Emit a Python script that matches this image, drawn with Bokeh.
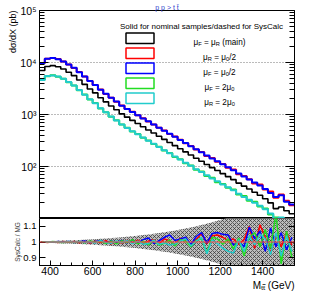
import numpy as np
from bokeh.plotting import figure
from bokeh.layouts import column
from bokeh.models import Range1d, FixedTicker, Label, Span, Title, LogAxis, LinearAxis
from bokeh.embed import file_html
from bokeh.resources import INLINE

# ---------------- data ----------------
bin_edges = list(range(350, 1575, 25))          # 48 bins of 25 GeV, 350 .. 1550
bin_centers = [e + 12.5 for e in bin_edges[:-1]]

# d sigma / dX (pb) per bin
main_mu = [7000, 8400, 8700, 8300, 7500, 6500, 5600, 4600, 3800, 3100, 2600, 2100,
           1750, 1460, 1230, 1030, 890, 770, 670, 580, 505, 440, 382, 333,
           289, 252, 219, 191, 166, 144, 126, 109, 95, 84, 73, 64,
           56, 48, 42, 37, 32, 28, 24, 20, 15.5, 16.6, 14.1, 12.3]
muR_half = [9750, 11850, 12150, 11650, 10450, 9200, 7850, 6550, 5380, 4420, 3690, 3020,
            2480, 2110, 1760, 1490, 1270, 1125, 965, 845, 735, 645, 555, 492,
            422, 376, 327, 280, 249, 212, 191, 160, 146, 124, 112, 95,
            88, 71, 66, 57, 47, 45, 36, 33, 25, 29, 22, 18]
muF_half = [9800, 11800, 12200, 11600, 10500, 9150, 7900, 6500, 5400, 4400, 3700, 3000,
            2500, 2100, 1770, 1480, 1280, 1120, 970, 840, 740, 640, 558, 489,
            425, 372, 324, 283, 246, 215, 188, 162, 143, 126, 110, 97,
            85, 73, 64, 56, 49, 43, 37, 31, 26, 28, 21, 18.5]
muF_two = [4650, 5450, 5700, 5350, 4880, 4170, 3620, 2930, 2420, 1950, 1655, 1305,
           1110, 905, 778, 640, 556, 472, 420, 356, 317, 270, 240, 203,
           182, 153, 138, 116, 105, 87, 80, 66, 61, 50, 46, 39,
           36, 29, 27, 22, 21, 17, 15.5, 12, 10.5, 10, 9.2, 7.4]
muR_two = [4600, 5500, 5650, 5400, 4850, 4200, 3600, 2950, 2400, 1970, 1640, 1320,
           1100, 915, 770, 645, 550, 478, 415, 360, 313, 273, 237, 206,
           179, 156, 136, 118, 103, 89, 78, 68, 59, 52, 45, 40,
           35, 30, 26, 23, 20, 17.5, 15, 12.5, 10, 10.5, 8.8, 7.7]

# SysCalc / MG ratios
ratio_muR_half = [1.002, 0.997, 1.001, 0.996, 1.003, 0.998, 1.004, 0.995, 1.003, 0.994, 1.005, 0.997,
                  1.008, 0.988, 1.004, 0.992, 1.010, 0.995, 1.012, 0.990, 1.006, 1.015, 0.988, 1.020,
                  1.008, 0.985, 1.025, 1.010, 0.980, 1.015, 1.055, 0.990, 1.040, 1.045, 1.030, 1.010,
                  1.020, 0.985, 1.015, 1.100, 0.960, 1.110, 1.030, 0.930, 1.040, 0.970, 1.060, 0.980]
ratio_muF_half = [0.999, 1.002, 0.998, 1.003, 1.000, 1.004, 0.997, 1.002, 1.006, 0.996, 1.003, 1.008,
                  0.995, 1.006, 0.997, 1.010, 0.994, 1.012, 0.992, 1.015, 1.025, 0.990, 1.008, 1.030,
                  1.045, 1.010, 1.020, 1.030, 0.985, 1.035, 1.060, 0.995, 1.055, 1.060, 1.050, 1.045,
                  0.980, 1.005, 0.970, 1.095, 1.020, 1.070, 0.940, 1.090, 0.970, 1.060, 0.950, 1.030]
ratio_muF_two = [1.001, 0.998, 1.003, 0.999, 0.997, 1.002, 0.996, 1.003, 0.995, 1.006, 0.998, 1.004,
                 0.990, 1.007, 0.988, 1.008, 0.996, 1.015, 0.988, 1.005, 0.982, 1.010, 0.980, 0.992,
                 1.012, 0.975, 1.015, 1.005, 0.970, 1.010, 1.020, 0.930, 1.030, 1.020, 0.985, 1.020,
                 0.955, 1.025, 0.910, 1.030, 1.060, 0.970, 1.080, 0.960, 1.180, 0.860, 1.070, 0.900]
ratio_muR_two = [0.998, 1.001, 1.000, 1.002, 0.998, 1.003, 0.999, 1.004, 0.997, 1.002, 0.994, 1.010,
                 0.996, 0.992, 1.006, 0.995, 1.009, 0.990, 1.006, 0.986, 0.990, 1.012, 0.985, 0.995,
                 0.980, 0.988, 1.005, 1.020, 0.975, 1.005, 1.030, 0.925, 1.015, 0.990, 0.960, 0.940,
                 0.930, 1.015, 0.940, 1.040, 0.980, 1.050, 1.020, 0.920, 1.060, 0.910, 1.040, 0.940]
# statistical band half-width around 1
band_halfwidth = [0.006, 0.007, 0.007, 0.008, 0.009, 0.010, 0.011, 0.012, 0.014, 0.016, 0.018, 0.020,
                  0.022, 0.025, 0.027, 0.030, 0.033, 0.036, 0.040, 0.044, 0.048, 0.052, 0.057, 0.062,
                  0.067, 0.073, 0.079, 0.086, 0.093, 0.100, 0.108, 0.117, 0.126, 0.135, 0.145, 0.156,
                  0.167, 0.180, 0.190, 0.200, 0.210, 0.220, 0.230, 0.240, 0.260, 0.280, 0.300, 0.320]

main_ticks = [100, 1000, 10000, 100000]
main_tick_labels = ["10²", "10³", "10⁴", "10⁵"]
ratio_ticks = [0.9, 1.0, 1.1]
ratio_tick_labels = ["0.9", "1", "1.1"]
x_ticks = [400, 600, 800, 1000, 1200, 1400]

series = [  # label pieces, colour, main values, ratio values
    ([("μ", "n"), ("F", "s"), (" = μ", "n"), ("R", "s"), (" (main)", "n")], "#000000", main_mu, None),
    ([("μ", "n"), ("R", "s"), (" = μ", "n"), ("0", "s"), ("/2", "n")], "#ff0000", muR_half, ratio_muR_half),
    ([("μ", "n"), ("F", "s"), (" = μ", "n"), ("0", "s"), ("/2", "n")], "#0000ff", muF_half, ratio_muF_half),
    ([("μ", "n"), ("F", "s"), (" = 2μ", "n"), ("0", "s")], "#22dd22", muF_two, ratio_muF_two),
    ([("μ", "n"), ("R", "s"), (" = 2μ", "n"), ("0", "s")], "#22cccc", muR_two, ratio_muR_two),
]

FONT = "Liberation Sans"

# ---------------- layout geometry (page pixels) ----------------
XMIN, XMAX = 350, 1550
FR_L, FR_R = 47, 302
M_TOP, M_BOT = 10, 218


def X(px):
    return XMIN + (px - FR_L) * (XMAX - XMIN) / (FR_R - FR_L)


def Y1(py):
    return 10 ** (5 - (py - M_TOP) * 4.0 / (M_BOT - M_TOP))


CW = {'μ': .577, 'F': .611, 'R': .722, '=': .584, ' ': .278, '(': .333, ')': .333, 'm': .833,
      'a': .556, 'i': .222, 'n': .556, '0': .556, '/': .278, '2': .556}


def twidth(s, size):
    return sum(CW.get(c, .556) for c in s) * size


def rich(fig, yfun, x_px, y_px, pieces, size):
    tot = sum(twidth(t, size if k == "n" else size * 0.7) for t, k in pieces)
    cur = x_px - tot / 2
    for t, k in pieces:
        fs = size if k == "n" else size * 0.7
        lead = len(t) - len(t.lstrip(" "))
        txt = t.strip(" ")
        fig.add_layout(Label(x=X(cur + lead * CW[' '] * fs), y=yfun(y_px), text=txt,
                             text_font=FONT, text_font_size=f"{fs:.1f}px", text_color="black",
                             text_align="left", text_baseline="middle",
                             y_offset=(-size * 0.3 if k == "s" else 0)))
        cur += twidth(t, fs)


def style_axis(ax, size):
    ax.axis_line_color = "black"
    ax.major_tick_line_color = "black"
    ax.minor_tick_line_color = "black"
    ax.major_tick_out = 0
    ax.minor_tick_out = 0
    ax.major_label_text_font = FONT
    ax.major_label_text_font_size = size
    ax.major_label_text_color = "black"
    ax.major_label_standoff = 3


def side_title(text, size, align, color="black", offset=0):
    return Title(text=text, align=align, text_font=FONT, text_font_size=size,
                 text_font_style="normal", text_color=color, standoff=0, offset=offset)


# ---------------- main panel ----------------
xr = Range1d(XMIN, XMAX)
p1 = figure(width=302, height=218, x_range=xr, y_range=Range1d(10, 1e5), y_axis_type="log",
            output_backend="svg", toolbar_location=None,
            min_border_left=39, min_border_right=8, min_border_top=10, min_border_bottom=0)
p1.xaxis.visible = False
p1.xgrid.visible = False
p1.outline_line_color = "black"
p1.outline_line_alpha = 1
minor = [m * 10 ** e for e in range(1, 5) for m in range(2, 10)]
p1.yaxis.ticker = FixedTicker(ticks=main_ticks, minor_ticks=minor)
p1.yaxis.major_label_overrides = dict(zip(main_ticks, main_tick_labels))
style_axis(p1.yaxis[0], "10.5px")
p1.yaxis.major_tick_in = 9
p1.yaxis.minor_tick_in = 5
p1.ygrid.grid_line_color = "#777777"
p1.ygrid.grid_line_dash = "1 2"
p1.ygrid.grid_line_width = 1

right1 = LogAxis(ticker=FixedTicker(ticks=main_ticks, minor_ticks=minor),
                 major_label_overrides={t: "" for t in main_ticks})
style_axis(right1, "1px")
right1.major_label_standoff = 0
right1.major_tick_in = 9
right1.minor_tick_in = 5
p1.add_layout(right1, "right")

p1.add_layout(side_title("p p > t t\u0304", "7px", "center", "#3344cc", offset=-6), "above")
p1.add_layout(side_title("dσ/dX (pb)", "9px", "right"), "left")

for pieces, col, vals, _ in series[1:] + series[:1]:
    p1.step(bin_edges, list(vals) + [vals[-1]], mode="after", line_color=col,
            line_width=2 if col != "#000000" else 1.6)

# legend
rich_header = "Solid for nominal samples/dashed for SysCalc"
p1.add_layout(Label(x=X(209), y=Y1(26), text=rich_header, text_font=FONT, text_font_size="8px",
                    text_align="center", text_baseline="middle", text_color="black"))
for i, (pieces, col, vals, _) in enumerate(series):
    top = 32.5 + 15 * i
    p1.quad(left=[X(133.5)], right=[X(161.5)], top=[Y1(top)], bottom=[Y1(top + 10.5)],
            fill_alpha=0, line_color=col, line_width=1.5)
    rich(p1, Y1, 227, top + 9, pieces, 8.2)

# ---------------- ratio panel ----------------
p2 = figure(width=302, height=73, x_range=xr, y_range=Range1d(0.85, 1.15),
            output_backend="svg", toolbar_location=None,
            min_border_left=39, min_border_right=8, min_border_top=0, min_border_bottom=26)
p2.grid.visible = False
p2.outline_line_color = "black"
p2.outline_line_alpha = 1
p2.xaxis.ticker = FixedTicker(ticks=x_ticks, minor_ticks=list(range(350, 1600, 50)))
style_axis(p2.xaxis[0], "10.5px")
p2.xaxis.major_tick_in = 5
p2.xaxis.minor_tick_in = 3
p2.xaxis.major_label_standoff = 1
p2.yaxis.ticker = FixedTicker(ticks=ratio_ticks, minor_ticks=[])
p2.yaxis.major_label_overrides = dict(zip(ratio_ticks, ratio_tick_labels))
style_axis(p2.yaxis[0], "9.5px")
p2.yaxis.major_tick_in = 6

right2 = LinearAxis(ticker=FixedTicker(ticks=ratio_ticks, minor_ticks=[]),
                    major_label_overrides={t: "" for t in ratio_ticks})
style_axis(right2, "1px")
right2.major_label_standoff = 0
right2.major_tick_in = 6
p2.add_layout(right2, "right")

p2.add_layout(side_title("SysCalc / MG", "6.5px", "center", "#333333"), "left")
p2.add_layout(side_title("Mₜₜ̄ (GeV)", "10px", "right"), "below")

band_x = [XMIN] + bin_centers + [XMAX]
band_w = [band_halfwidth[0]] + band_halfwidth + [band_halfwidth[-1]]
p2.varea(x=band_x, y1=[1 - w for w in band_w], y2=[1 + w for w in band_w],
         fill_color="#bdbdbd", fill_alpha=1, hatch_pattern="x", hatch_scale=4,
         hatch_color="#333333", hatch_weight=1, hatch_alpha=0.7)
p2.add_layout(Span(location=1, dimension="width", line_color="#ff4444", line_width=1))
for pieces, col, vals, rat in series[1:]:
    p2.line(bin_centers, rat, line_color=col, line_width=1.5)

layout = column(p1, p2)
open("out.html", "w").write(file_html(layout, INLINE))
